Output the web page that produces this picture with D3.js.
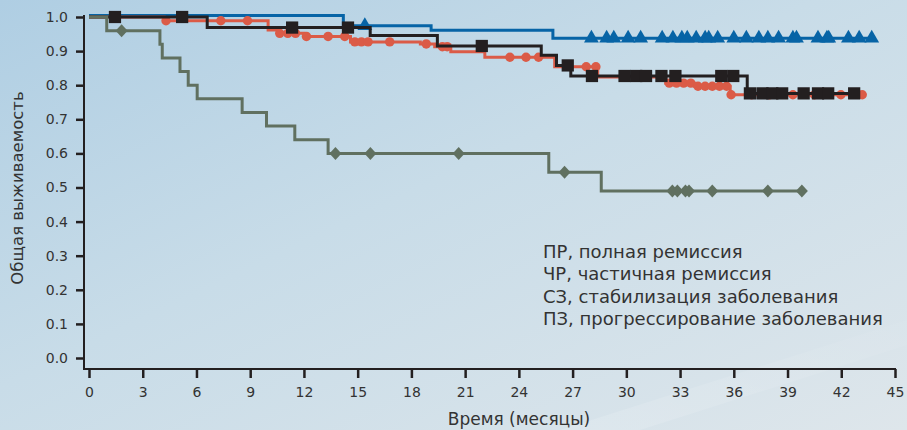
<!DOCTYPE html>
<html>
<head>
<meta charset="utf-8">
<script src="https://cdn.jsdelivr.net/npm/d3@7"></script>
<style>
  html, body { margin: 0; padding: 0; }
  body { width: 907px; height: 430px; overflow: hidden; }
  text { font-family: "DejaVu Sans", sans-serif; fill: #333; }
</style>
</head>
<body>
<div id="chart"></div>
<script>
// Chart size
var width = 907;
var height = 430;

// Axis ticks
var xTicks = [0, 3, 6, 9, 12, 15, 18, 21, 24, 27, 30, 33, 36, 39, 42, 45];
var yTicks = [0.0, 0.1, 0.2, 0.3, 0.4, 0.5, 0.6, 0.7, 0.8, 0.9, 1.0];

// Legend text (text only in the original)
var legendLines = [
  "ПР, полная ремиссия",
  "ЧР, частичная ремиссия",
  "СЗ, стабилизация заболевания",
  "ПЗ, прогрессирование заболевания"
];

// Blue curve (triangles)
var blueTimes = [0, 14.2, 19.1, 25.9];
var blueSurv = [1.0, 0.970, 0.957, 0.933];
var blueEnd = 43.7;
var blueCensor = [15.4, 28.05, 28.9, 29.3, 30.1, 30.8, 32.0, 32.6, 33.1, 33.4, 33.9, 34.4,
  34.6, 35.1, 36.0, 36.7, 37.4, 37.9, 38.5, 39.3, 39.5, 40.7, 41.2, 41.3, 42.4, 43.0, 43.7];

// Red curve (circles)
var redTimes = [0, 4.2, 10.0, 10.6, 12.0, 14.6, 18.5, 19.3, 20.2, 22.1, 26.0, 28.4, 32.2, 33.8, 35.8];
var redSurv = [1.0, 0.989, 0.962, 0.952, 0.943, 0.927, 0.921, 0.913, 0.898, 0.882, 0.854, 0.824, 0.806, 0.797, 0.772];
var redEnd = 43.2;
var redCensor = [4.3, 7.36, 8.85, 10.65, 11.1, 11.53, 12.14, 13.35, 14.28, 14.84, 15.21, 15.58,
  16.79, 18.83, 19.73, 20.0, 23.5, 24.4, 25.1, 27.76, 28.3, 32.4, 32.8, 33.2, 33.6, 34.0,
  34.4, 34.8, 35.2, 35.6, 35.85, 37.0, 38.0, 39.3, 40.5, 41.98, 43.17];

// Black curve (squares)
var blackTimes = [0, 6.6, 15.7, 19.45, 25.25, 26.1, 26.9, 36.75];
var blackSurv = [1.0, 0.969, 0.946, 0.915, 0.888, 0.858, 0.827, 0.776];
var blackEnd = 42.7;
var blackCensor = [1.45, 5.2, 11.34, 14.46, 21.93, 26.73, 28.08, 29.9, 30.55, 31.1, 31.96,
  32.74, 35.3, 35.97, 36.9, 37.6, 38.15, 38.7, 39.9, 40.7, 41.27, 42.72];

// Green curve (diamonds)
var greenTimes = [0, 0.99, 3.96, 4.09, 5.08, 5.54, 6.04, 8.55, 9.91, 11.49, 13.35, 25.67, 28.6];
var greenSurv = [1.0, 0.96, 0.92, 0.88, 0.84, 0.80, 0.76, 0.72, 0.68, 0.64, 0.60, 0.545, 0.49];
var greenEnd = 39.8;
var greenCensor = [1.82, 13.76, 15.71, 20.64, 26.55, 32.57, 32.85, 33.3, 33.5, 34.8, 37.9, 39.8];

var svg = d3.select("#chart").append("svg")
    .attr("width", width)
    .attr("height", height);

// Background gradient
var defs = svg.append("defs");
var bg = defs.append("linearGradient")
    .attr("id", "bg")
    .attr("x1", "0%").attr("y1", "0%")
    .attr("x2", "100%").attr("y2", "100%");
bg.append("stop").attr("offset", "0%").attr("stop-color", "#afcee3");
bg.append("stop").attr("offset", "45%").attr("stop-color", "#c8dce8");
bg.append("stop").attr("offset", "100%").attr("stop-color", "#dee6eb");
svg.append("rect")
    .attr("width", width)
    .attr("height", height)
    .attr("fill", "url(#bg)");

// faint light sweep in the lower right corner
var sweep = defs.append("linearGradient")
    .attr("id", "sweep")
    .attr("x1", "0%").attr("y1", "100%")
    .attr("x2", "100%").attr("y2", "0%");
sweep.append("stop").attr("offset", "0%").attr("stop-color", "#ffffff").attr("stop-opacity", 0.15);
sweep.append("stop").attr("offset", "100%").attr("stop-color", "#ffffff").attr("stop-opacity", 0.03);
svg.append("path")
    .attr("d", "M560,430 L907,320 L907,345 L640,430 Z")
    .attr("fill", "url(#sweep)");

var x = d3.scaleLinear().domain([0, 45]).range([89, 895]);
var y = d3.scaleLinear().domain([0, 1]).range([358, 17]);

var axisColor = "#231f20";

// Axes lines
svg.append("line")
    .attr("x1", 84).attr("x2", 84)
    .attr("y1", y(1) - 2).attr("y2", 370)
    .attr("stroke", axisColor).attr("stroke-width", 2);
svg.append("line")
    .attr("x1", 83).attr("x2", x(45) + 1)
    .attr("y1", 369).attr("y2", 369)
    .attr("stroke", axisColor).attr("stroke-width", 2);

var xAxis = svg.append("g")
    .attr("transform", "translate(0,369)")
    .call(d3.axisBottom(x).tickValues(xTicks).tickSize(9).tickPadding(9).tickFormat(d3.format("d")));
xAxis.select(".domain").remove();
xAxis.selectAll(".tick line").attr("stroke", axisColor).attr("stroke-width", 2.5);
xAxis.selectAll(".tick text")
    .attr("fill", "#333")
    .style("font-size", "14px")
    .style("font-family", "\"DejaVu Sans\", sans-serif");

var yAxis = svg.append("g")
    .attr("transform", "translate(84,0)")
    .call(d3.axisLeft(y).tickValues(yTicks).tickSize(8).tickPadding(8).tickFormat(d3.format(".1f")));
yAxis.select(".domain").remove();
yAxis.selectAll(".tick line").attr("stroke", axisColor).attr("stroke-width", 2.5);
yAxis.selectAll(".tick text")
    .attr("fill", "#333")
    .style("font-size", "14px")
    .style("font-family", "\"DejaVu Sans\", sans-serif");

// Axis titles
svg.append("text")
    .attr("x", 519)
    .attr("y", 425)
    .attr("text-anchor", "middle")
    .style("font-size", "17px")
    .text("Время (месяцы)");

svg.append("text")
    .attr("transform", "translate(23,188) rotate(-90)")
    .attr("text-anchor", "middle")
    .style("font-size", "16.5px")
    .text("Общая выживаемость");

// Kaplan-Meier step path helpers
var stepLine = d3.line()
    .x(function(d) { return x(d[0]); })
    .y(function(d) { return y(d[1]); })
    .curve(d3.curveStepAfter);

function stepPoints(times, surv, end) {
  var pts = times.map(function(t, i) { return [t, surv[i]]; });
  pts.push([end, surv[surv.length - 1]]);
  return pts;
}

function survAt(times, surv, t) {
  var v = surv[0];
  for (var i = 0; i < times.length; i++) {
    if (times[i] <= t) v = surv[i];
  }
  return v;
}

var diamond = {
  draw: function(context, size) {
    var w = 6, h = 6.5;
    context.moveTo(0, -h);
    context.lineTo(w, 0);
    context.lineTo(0, h);
    context.lineTo(-w, 0);
    context.closePath();
  }
};

function drawCurve(times, surv, end, censor, color, symbolType, symbolSize, dy) {
  var g = svg.append("g").attr("transform", "translate(0," + (dy || 0) + ")");
  g.append("path")
      .datum(stepPoints(times, surv, end))
      .attr("d", stepLine)
      .attr("fill", "none")
      .attr("stroke", color)
      .attr("stroke-width", 3);
  g.selectAll("path.mark")
      .data(censor)
      .enter().append("path")
      .attr("class", "mark")
      .attr("d", d3.symbol().type(symbolType).size(symbolSize))
      .attr("transform", function(t) {
        return "translate(" + x(t) + "," + y(survAt(times, surv, t)) + ")";
      })
      .attr("fill", color);
}

drawCurve(blueTimes, blueSurv, blueEnd, blueCensor, "#0764a6", d3.symbolTriangle, 95, -1.5);
drawCurve(redTimes, redSurv, redEnd, redCensor, "#db5b47", d3.symbolCircle, 70, 0);
drawCurve(blackTimes, blackSurv, blackEnd, blackCensor, "#231f20", d3.symbolSquare, 150, 0);
drawCurve(greenTimes, greenSurv, greenEnd, greenCensor, "#607060", diamond, 100, 0);

// Legend text: one text block, one tspan per line
svg.append("text")
    .attr("x", 543)
    .attr("y", 258)
    .style("font-size", "18px")
  .selectAll("tspan")
    .data(legendLines)
    .enter().append("tspan")
    .attr("x", 543)
    .attr("y", function(d, i) { return 258 + i * 22.4; })
    .text(function(d) { return d; });
</script>
</body>
</html>
